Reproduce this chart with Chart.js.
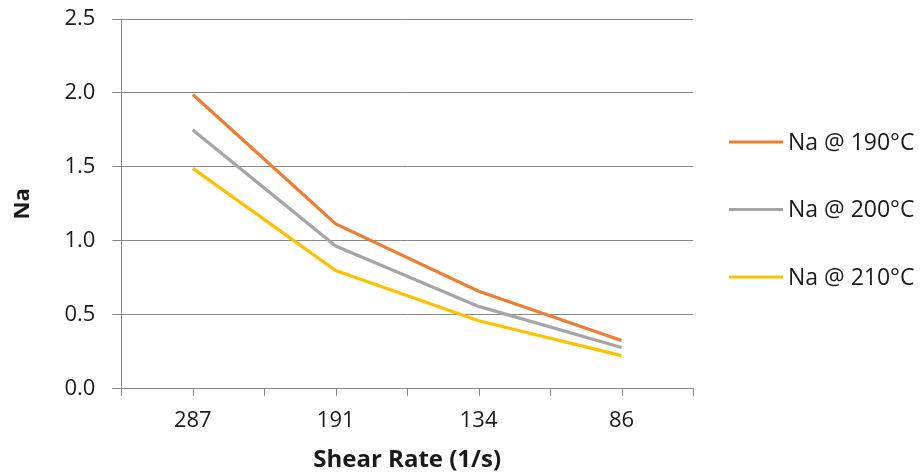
<!DOCTYPE html>
<html>
<head>
<meta charset="utf-8">
<script src="https://cdn.jsdelivr.net/npm/chart.js@4"></script>
<style>
  body { margin: 0; background: #fff; }
  #wrap { width: 921px; height: 475px; }
</style>
</head>
<body>
<div id="wrap"><canvas id="chart" width="921" height="475"></canvas></div>
<script>
const shearRates = ["287", "191", "134", "86"];
const na190 = [1.99, 1.115, 0.66, 0.326];
const na200 = [1.75, 0.965, 0.557, 0.279];
const na210 = [1.49, 0.80, 0.46, 0.224];
const seriesNames = ["Na @ 190°C", "Na @ 200°C", "Na @ 210°C"];
const seriesColors = ["#ED7D31", "#A5A5A5", "#FFC000"];

const FONT = "'Open Sans', 'Liberation Sans', sans-serif";
const gridColor = "#878787";
const textColor = "#1a1a1a";

// legend drawn by hand so it sits where the original one does
const sideLegend = {
  id: "sideLegend",
  afterDraw(chart) {
    const ctx = chart.ctx;
    const x0 = 729, y0 = 142, gap = 67.5;
    ctx.save();
    ctx.font = "23px " + FONT;
    ctx.textBaseline = "middle";
    ctx.textAlign = "left";
    chart.data.datasets.forEach((ds, i) => {
      const y = y0 + i * gap;
      ctx.strokeStyle = ds.borderColor;
      ctx.lineWidth = 3.2;
      ctx.beginPath();
      ctx.moveTo(x0, y);
      ctx.lineTo(x0 + 54, y);
      ctx.stroke();
      ctx.fillStyle = textColor;
      ctx.fillText(ds.label, x0 + 59, y + 1);
    });
    ctx.restore();
  }
};

// extra tick marks under each category label (the grid gives the boundary ones)
const centerTicks = {
  id: "centerTicks",
  afterDraw(chart) {
    const x = chart.scales.x;
    const ctx = chart.ctx;
    ctx.save();
    ctx.strokeStyle = gridColor;
    ctx.lineWidth = 1;
    shearRates.forEach((_, i) => {
      const px = Math.round(x.getPixelForValue(i)) + 0.5;
      ctx.beginPath();
      ctx.moveTo(px, x.top);
      ctx.lineTo(px, x.top + 7);
      ctx.stroke();
    });
    ctx.restore();
  }
};

const ctx = document.getElementById("chart").getContext("2d");

new Chart(ctx, {
  type: "line",
  data: {
    labels: shearRates,
    datasets: [na190, na200, na210].map((d, i) => ({
      label: seriesNames[i],
      data: d,
      borderColor: seriesColors[i],
      backgroundColor: seriesColors[i],
      borderWidth: 3.2,
      pointRadius: 0,
      tension: 0,
    })),
  },
  options: {
    responsive: false,
    animation: false,
    layout: { padding: { left: 10, right: 228, top: 0, bottom: 0 } },
    plugins: {
      legend: { display: false },
      tooltip: { enabled: false },
    },
    scales: {
      x: {
        offset: true,
        grid: {
          offset: true,
          drawOnChartArea: false,
          drawTicks: true,
          tickLength: 7,
          color: gridColor,
        },
        border: { color: gridColor },
        ticks: { color: textColor, font: { family: FONT, size: 22 }, padding: 12 },
        title: {
          display: true,
          text: "Shear Rate (1/s)",
          color: textColor,
          font: { family: FONT, size: 24, weight: "bold" },
          padding: { top: 0, bottom: 0 },
        },
      },
      y: {
        min: 0,
        max: 2.5,
        // keep the label padding from pushing the plot top down
        afterFit: (s) => { s.paddingTop = 19; s.paddingBottom = 19; },
        ticks: {
          stepSize: 0.5,
          color: textColor,
          font: { family: FONT, size: 22 },
          padding: 17,
          callback: (v) => v.toFixed(1),
        },
        grid: { color: gridColor, tickLength: 9 },
        border: { color: gridColor },
        title: {
          display: true,
          text: "Na",
          color: textColor,
          font: { family: FONT, size: 22, weight: "bold" },
          padding: { top: 0, bottom: 11 },
        },
      },
    },
  },
  plugins: [sideLegend, centerTicks],
});
</script>
</body>
</html>
